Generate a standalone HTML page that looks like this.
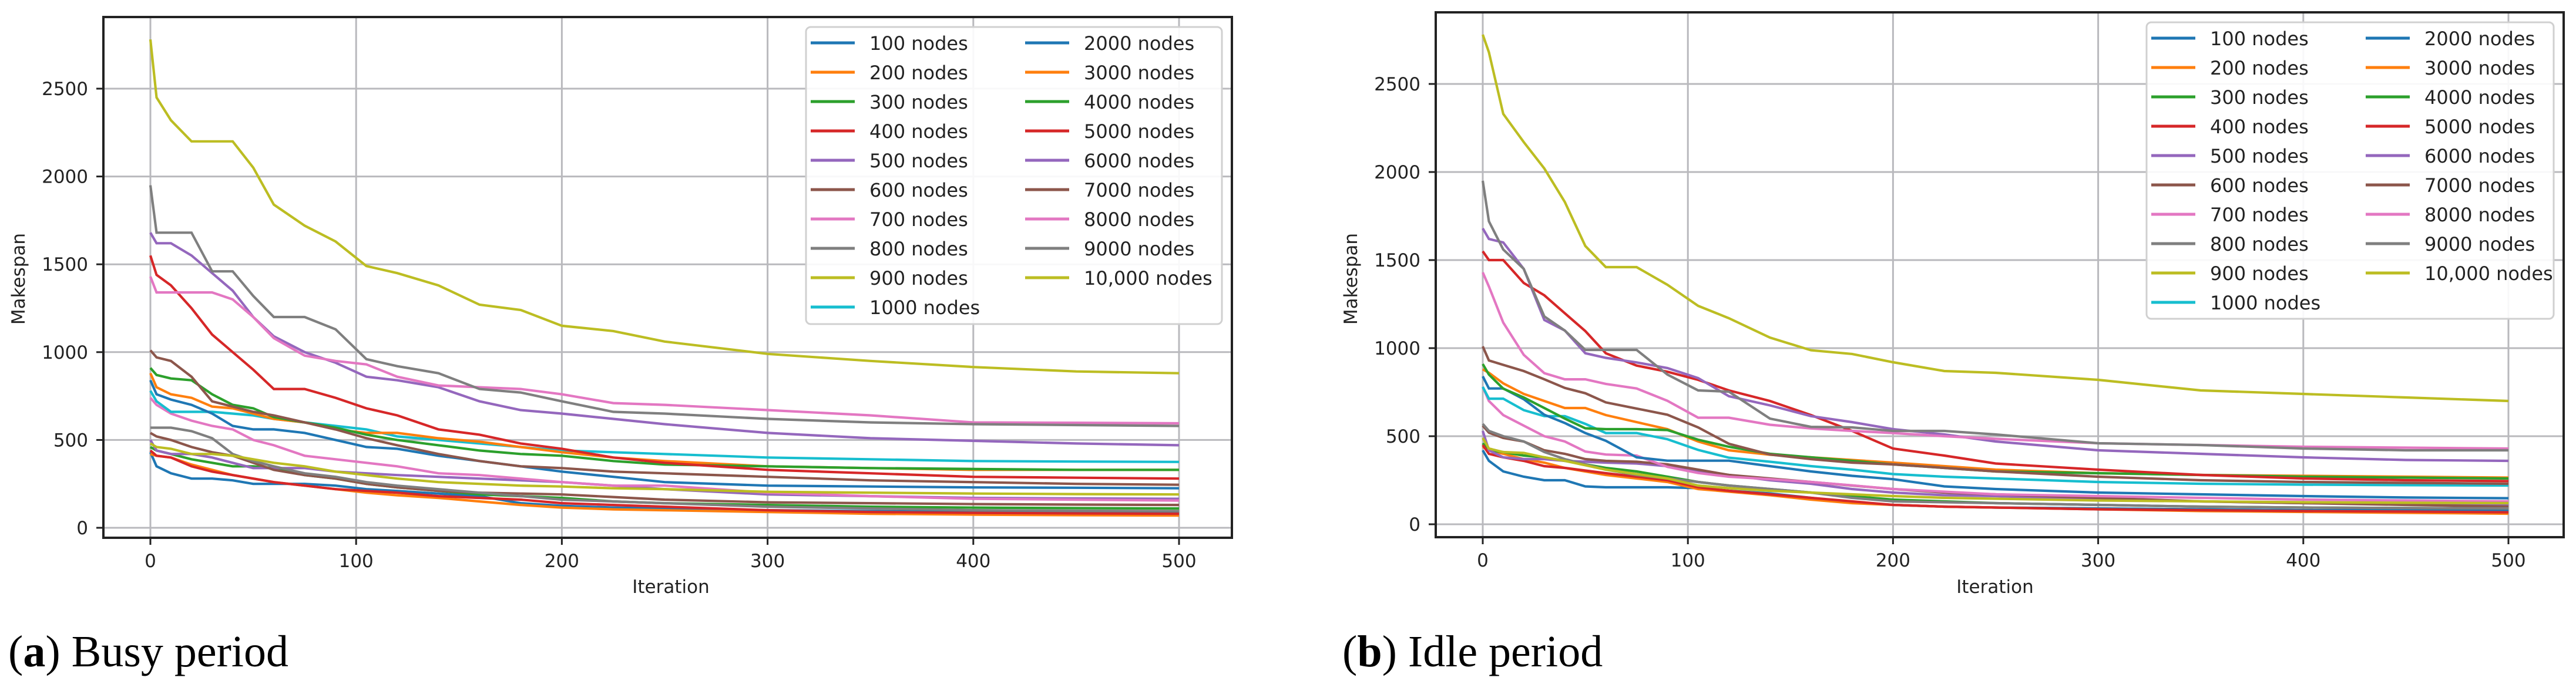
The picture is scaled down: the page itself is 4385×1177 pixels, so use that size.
<!DOCTYPE html>
<html><head><meta charset="utf-8"><style>
html,body{margin:0;padding:0;background:#fff;width:4385px;height:1177px;overflow:hidden}
svg{display:block}
</style></head><body>
<svg id="fig" width="4385" height="1177" viewBox="0 0 4385 1177" xmlns="http://www.w3.org/2000/svg"></svg>
<script>
// ===== Shared data =====
const iterations = [0,3,10,20,30,40,50,60,75,90,105,120,140,160,180,200,225,250,300,350,400,450,500];
const seriesLabels = ["100 nodes","200 nodes","300 nodes","400 nodes","500 nodes","600 nodes","700 nodes","800 nodes","900 nodes","1000 nodes","2000 nodes","3000 nodes","4000 nodes","5000 nodes","6000 nodes","7000 nodes","8000 nodes","9000 nodes","10,000 nodes"];
const yTicks = [0,500,1000,1500,2000,2500];
const xTicks = [0,100,200,300,400,500];

// ===== Busy period (a) =====
const busy100  = [430,350,310,280,280,270,250,250,250,240,220,210,195,180,140,125,115,110,100,95,90,88,85];
const busy200  = [420,410,400,360,330,300,280,260,240,220,200,185,170,150,130,115,105,100,90,80,75,72,70];
const busy300  = [460,440,420,390,370,350,350,340,300,280,250,230,210,190,180,170,150,140,130,120,115,112,110];
const busy400  = [440,410,400,350,320,300,280,260,240,220,210,200,180,170,160,140,130,120,100,90,85,82,80];
const busy500  = [500,440,420,420,400,370,340,340,340,320,310,300,290,280,270,260,240,220,190,180,170,167,165];
const busy600  = [540,520,500,460,430,410,370,330,300,280,250,230,210,200,195,190,175,160,145,140,135,132,130];
const busy700  = [740,700,650,610,580,560,500,470,410,390,370,350,310,300,280,260,240,240,200,180,165,160,155];
const busy800  = [570,570,570,550,510,420,380,350,310,290,260,240,220,200,180,160,150,140,120,110,100,97,95];
const busy900  = [480,460,450,420,420,410,390,370,350,320,300,280,260,250,240,235,225,220,205,200,195,192,190];
const busy1000 = [780,720,660,660,660,650,640,620,600,580,560,520,500,480,460,440,430,420,400,390,380,377,375];
const busy2000 = [840,760,730,700,650,580,560,560,540,500,460,450,410,380,350,320,290,260,240,235,230,228,225];
const busy3000 = [880,800,760,740,690,680,650,620,600,560,540,540,510,490,460,430,400,380,350,340,330,330,330];
const busy4000 = [910,870,850,840,760,700,680,630,600,570,530,500,470,440,420,410,380,360,350,340,335,330,330];
const busy5000 = [1550,1440,1380,1250,1100,1000,900,790,790,740,680,640,560,530,480,450,400,370,330,310,290,285,280];
const busy6000 = [1680,1620,1620,1550,1450,1350,1200,1090,1000,940,860,840,800,720,670,650,620,590,540,510,495,480,470];
const busy7000 = [1010,970,950,860,720,690,660,640,600,560,510,470,420,380,350,340,320,310,290,270,260,250,245];
const busy8000 = [1430,1340,1340,1340,1340,1300,1200,1080,980,950,930,860,810,800,790,760,710,700,670,640,600,598,595];
const busy9000 = [1950,1680,1680,1680,1460,1460,1320,1200,1200,1130,960,920,880,790,770,720,660,650,620,600,590,585,580];
const busy10000= [2780,2450,2320,2200,2200,2200,2050,1840,1720,1630,1490,1450,1380,1270,1240,1150,1120,1060,990,950,915,890,880];

// ===== Idle period (b) =====
const idle100  = [420,360,300,270,250,250,215,210,210,210,205,190,175,150,125,110,100,95,90,85,80,80,80];
const idle200  = [440,420,400,370,350,320,300,280,260,240,200,185,165,140,120,110,100,95,85,75,70,65,60];
const idle300  = [460,420,410,390,380,360,340,320,300,270,240,220,200,180,160,140,130,120,110,100,95,92,90];
const idle400  = [450,400,380,360,330,320,305,290,270,250,210,190,170,150,130,110,100,95,85,80,75,72,68];
const idle500  = [530,420,380,370,370,360,355,350,345,330,300,280,250,230,200,180,165,160,140,130,120,115,110];
const idle600  = [560,520,490,470,420,400,370,360,355,340,310,280,260,240,220,200,180,170,150,130,120,110,100];
const idle700  = [780,700,620,560,500,470,413,396,390,326,291,270,256,240,221,200,185,170,160,150,140,135,130];
const idle800  = [570,530,500,470,410,370,340,310,280,260,240,220,200,180,150,130,125,120,110,100,95,92,90];
const idle900  = [490,430,410,405,380,360,335,310,285,260,220,205,190,180,170,160,150,145,135,130,125,122,120];
const idle1000 = [780,713,713,648,614,614,570,518,518,483,422,378,355,330,310,285,270,260,240,230,225,222,220];
const idle2000 = [840,771,771,710,622,575,518,474,380,361,361,361,330,300,275,256,215,200,180,170,160,152,148];
const idle3000 = [880,860,800,740,700,660,660,620,580,540,470,420,395,380,365,350,330,310,290,280,275,270,265];
const idle4000 = [910,850,770,720,660,600,545,540,540,535,480,440,400,380,360,340,320,300,290,280,270,265,260];
const idle5000 = [1550,1500,1500,1370,1300,1198,1097,971,901,866,820,760,700,620,530,430,390,345,310,280,260,250,245];
const idle6000 = [1680,1620,1600,1450,1160,1100,971,945,919,887,830,727,675,614,580,540,510,470,420,400,380,365,360];
const idle7000 = [1010,930,905,870,823,774,744,692,657,622,550,457,396,370,350,340,320,300,270,250,240,235,230];
const idle8000 = [1430,1350,1145,962,858,823,823,797,771,701,605,605,565,544,530,518,500,485,460,450,440,435,430];
const idle9000 = [1950,1720,1560,1450,1180,1100,990,990,990,850,760,753,600,553,550,530,530,510,460,450,430,420,420];
const idle10000= [2780,2680,2330,2170,2020,1830,1580,1460,1460,1360,1240,1170,1060,988,967,920,870,860,820,760,740,720,700];

const busySeries = [busy100,busy200,busy300,busy400,busy500,busy600,busy700,busy800,busy900,busy1000,busy2000,busy3000,busy4000,busy5000,busy6000,busy7000,busy8000,busy9000,busy10000];
const idleSeries = [idle100,idle200,idle300,idle400,idle500,idle600,idle700,idle800,idle900,idle1000,idle2000,idle3000,idle4000,idle5000,idle6000,idle7000,idle8000,idle9000,idle10000];

const colors = ["#1f77b4","#ff7f0e","#2ca02c","#d62728","#9467bd","#8c564b","#e377c2","#7f7f7f","#bcbd22","#17becf"];
const NS = "http://www.w3.org/2000/svg";
const svg = document.getElementById("fig");

function mk(tag, attrs, parent){
  const e = document.createElementNS(NS, tag);
  for (const k in attrs) e.setAttribute(k, attrs[k]);
  (parent||svg).appendChild(e);
  return e;
}

function drawChart(cfg){
  const g = mk("g", {});
  
  
  const xs = v => cfg.x0 + (v/500)*(cfg.x500 - cfg.x0);
  const ys = v => cfg.y0 - (v/2500)*(cfg.y0 - cfg.y2500);
  // grid
  xTicks.forEach(t=>{
    const l = mk("line",{x1:xs(t),x2:xs(t),y1:cfg.top,y2:cfg.bottom,stroke:"#b9b9bd","stroke-width":3},g);
    
    
  });
  yTicks.forEach(t=>{
    const l = mk("line",{x1:cfg.left,x2:cfg.right,y1:ys(t),y2:ys(t),stroke:"#b9b9bd","stroke-width":3},g);
    
    
  });
  // series
  cfg.series.forEach((arr,i)=>{
    const pts = arr.map((v,j)=>xs(iterations[j]).toFixed(1)+","+ys(v).toFixed(1)).join(" ");
    const p = mk("polyline",{points:pts,fill:"none",stroke:colors[i%10],"stroke-width":4.2,"stroke-linejoin":"miter"},g);
    
    
  });
  // spines
  const sp = mk("rect",{x:cfg.left,y:cfg.top,width:cfg.right-cfg.left,height:cfg.bottom-cfg.top,fill:"none",stroke:"#222","stroke-width":4},g);
  
  
  // ticks
  yTicks.forEach(t=>{
    mk("line",{x1:cfg.left-12,x2:cfg.left,y1:ys(t),y2:ys(t),stroke:"#222","stroke-width":3},g);
    const tx = mk("text",{x:cfg.left-26,y:ys(t)+11,"text-anchor":"end","font-family":"DejaVu Sans, Liberation Sans, sans-serif","font-size":31,fill:"#222"},g);
    tx.textContent = t;
    
    
  });
  xTicks.forEach(t=>{
    mk("line",{x1:xs(t),x2:xs(t),y1:cfg.bottom,y2:cfg.bottom+12,stroke:"#222","stroke-width":3},g);
    const tx = mk("text",{x:xs(t),y:cfg.bottom+50,"text-anchor":"middle","font-family":"DejaVu Sans, Liberation Sans, sans-serif","font-size":31,fill:"#222"},g);
    tx.textContent = t;
    
    
  });
  // axis titles
  const xt = mk("text",{x:cfg.xlabelX,y:1010,"text-anchor":"middle","font-family":"DejaVu Sans, Liberation Sans, sans-serif","font-size":31,fill:"#222"},g);
  xt.textContent = "Iteration";
  
  
  const yt = mk("text",{x:0,y:0,"text-anchor":"middle","font-family":"DejaVu Sans, Liberation Sans, sans-serif","font-size":31,fill:"#222",transform:`translate(${cfg.ylabelX},475) rotate(-90)`},g);
  yt.textContent = "Makespan";
  
  
  // legend
  const lg = mk("g",{},g);
  
  
  mk("rect",{x:cfg.legX,y:cfg.legY,width:cfg.legW,height:cfg.legH,rx:8,fill:"#fff","fill-opacity":0.9,stroke:"#d0d0d0","stroke-width":3},lg);
  seriesLabels.forEach((lab,i)=>{
    const col = i<10?0:1, row = i<10?i:i-10;
    const lx = cfg.legX + 8 + col*365;
    const ly = cfg.legY + 27 + row*50;
    const e = mk("g",{},lg);
    
    
    mk("line",{x1:lx,x2:lx+75,y1:ly,y2:ly,stroke:colors[i%10],"stroke-width":5},e);
    const t = mk("text",{x:lx+100,y:ly+12,"font-family":"DejaVu Sans, Liberation Sans, sans-serif","font-size":32,fill:"#222"},e);
    t.textContent = lab;
  });
  // caption
  const cap = mk("text",{x:cfg.capX,y:1135,"font-family":"Liberation Serif, serif","font-size":76,fill:"#000"},g);
  
  
  const t1 = mk("tspan",{},cap); t1.textContent="(";
  const t2 = mk("tspan",{"font-weight":"bold"},cap); t2.textContent=cfg.capLetter;
  const t3 = mk("tspan",{},cap); t3.textContent=") "+cfg.capText;
}

drawChart({name:"busy-period-chart",series:busySeries,left:176,right:2097,top:29,bottom:916,
  x0:256,x500:2007,y0:899,y2500:151,xlabelX:1142,ylabelX:42,
  legX:1372,legY:46,legW:708,legH:506,capX:14,capLetter:"a",capText:"Busy period"});
drawChart({name:"idle-period-chart",series:idleSeries,left:2444,right:4364,top:21,bottom:915,
  x0:2524,x500:4270,y0:893,y2500:143,xlabelX:3396,ylabelX:2310,
  legX:3654,legY:38,legW:693,legH:505,capX:2285,capLetter:"b",capText:"Idle period"});
</script>
</body></html>
